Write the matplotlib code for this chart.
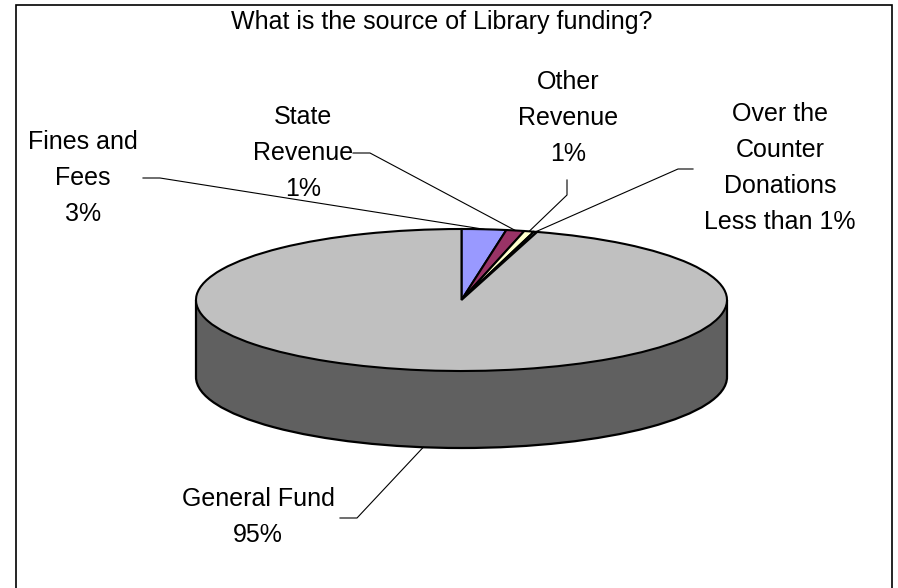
import numpy as np
import matplotlib
matplotlib.use("Agg")
import matplotlib.pyplot as plt
from matplotlib import patches

# Library funding sources (percent of total)
sources = ["Fines and\nFees", "State\nRevenue", "Other\nRevenue",
           "Over the\nCounter\nDonations", "General Fund"]
shares = [2.7, 1.1, 0.6, 0.2, 95.4]
slice_colors = ["#9999FF", "#993366", "#FFFFCC", "#CCFFFF", "#C0C0C0"]
title = "What is the source of Library funding?"

# label text position and leader elbow, in pixels from the top left
label_xy = [(83, 178), (303, 153), (568, 118), (780, 168), (258, 517)]
elbow_xy = [[(143, 178), (160, 178)],
            [(353, 153), (370, 153)],
            [(567, 180), (567, 195)],
            [(693, 169), (678, 169)],
            [(340, 518), (357, 518)]]

W, H = 898, 588
cx, cy = 461.5, 300.0   # centre of the pie top
a, b = 265.5, 71.0      # half axes of the top ellipse
depth = 77.0 / b        # thickness of the disc, in data units

plt.rcParams['font.family'] = ['Liberation Sans', 'DejaVu Sans']

fig = plt.figure(figsize=(W / 100, H / 100), dpi=100)
ax = fig.add_axes([0, 0, 1, 1])


def to_data(p):
    return (p[0] - cx) / a, (cy - p[1]) / b


# side of the disc
side = "#606060"
ax.add_patch(patches.Ellipse((0, -depth), 2, 2, facecolor=side, edgecolor="none", zorder=1))
ax.add_patch(patches.Rectangle((-1, -depth), 2, depth, facecolor=side, edgecolor="none", zorder=1))
ax.add_patch(patches.Arc((0, -depth), 2, 2, theta1=180, theta2=360, color="black", lw=1.6, zorder=2))
ax.vlines([-1, 1], -depth, 0, color="black", lw=1.6, zorder=2)

# top of the disc
wedges, _ = ax.pie(shares, colors=slice_colors, startangle=90, counterclock=False,
                   radius=1, center=(0, 0), frame=True,
                   wedgeprops=dict(edgecolor="black", linewidth=1.5, zorder=3))

total = sum(shares)
for w, name, val, lxy, elb in zip(wedges, sources, shares, label_xy, elbow_xy):
    pct = val / total * 100
    pct_txt = f"{pct:.0f}%" if pct >= 0.5 else "Less than 1%"
    mid = np.deg2rad((w.theta1 + w.theta2) / 2)
    rim = (np.cos(mid), np.sin(mid))
    if rim[1] < 0:
        rim = (rim[0], rim[1] - depth)
    pts = [to_data(p) for p in elb] + [rim]
    ax.plot([p[0] for p in pts], [p[1] for p in pts], color="black", lw=0.8, zorder=4)
    tx, ty = to_data(lxy)
    ax.text(tx, ty, f"{name}\n{pct_txt}", ha="center", va="center", multialignment="center",
            fontsize=18, linespacing=1.62, zorder=5)

ax.set_xlim((0 - cx) / a, (W - cx) / a)
ax.set_ylim((cy - H) / b, cy / b)
ax.set_aspect("auto")
ax.axis("off")

fig.text(442 / W, 1 - 22 / H, title, ha="center", va="center", fontsize=18)

# chart border
fig.add_artist(patches.Rectangle((16 / W, -0.02), (892 - 16) / W, 1 - 5 / H + 0.02,
                                 transform=fig.transFigure, fill=False,
                                 edgecolor="black", lw=1.2))

fig.savefig("out.png", dpi=100)
